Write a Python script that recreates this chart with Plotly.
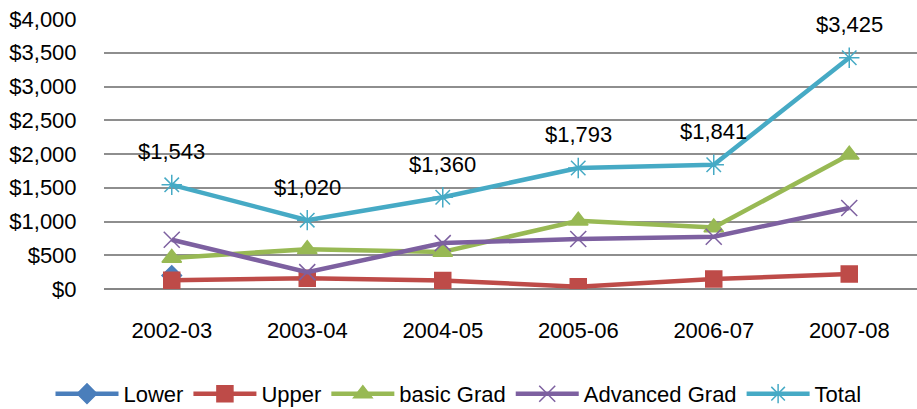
import plotly.graph_objects as go

categories = ["2002-03", "2003-04", "2004-05", "2005-06", "2006-07", "2007-08"]
lower = [200, None, None, None, None, None]
upper = [130, 160, 125, 35, 148, 222]
basic_grad = [460, 590, 550, 1010, 910, 1990]
advanced_grad = [730, 250, 680, 740, 775, 1200]
total = [1543, 1020, 1360, 1793, 1841, 3425]
y_ticks = [0, 500, 1000, 1500, 2000, 2500, 3000, 3500, 4000]

FONT = "Liberation Sans"
series = [
    ("Lower", lower, "#4A7EBB", "diamond", 15),
    ("Upper", upper, "#BE4B48", "square", 16),
    ("basic Grad", basic_grad, "#98B954", "triangle-up", 17),
    ("Advanced Grad", advanced_grad, "#7D60A0", "x-thin-open", 16),
    ("Total", total, "#46AAC5", "asterisk-open", 17),
]

fig = go.Figure()
for name, vals, color, sym, sz in series:
    fig.add_trace(go.Scatter(
        x=categories, y=vals, name=name, mode="lines+markers",
        line=dict(color=color, width=4.5),
        marker=dict(symbol=sym, size=sz, color=color,
                    line=dict(color=color, width=1.5)),
    ))

for c, v in zip(categories, total):
    fig.add_annotation(x=c, y=v, text=f"${v:,}", showarrow=False,
                       yshift=33, font=dict(family=FONT, size=22, color="#000000"))

fig.update_layout(
    width=917, height=409,
    margin=dict(l=104, r=0, t=19, b=120, autoexpand=False),
    paper_bgcolor="white", plot_bgcolor="white",
    font=dict(family=FONT, size=22, color="#000000"),
    showlegend=True,
    legend=dict(orientation="h", xref="container", yref="container",
                x=0.5, xanchor="center", y=0.037, yanchor="middle",
                font=dict(size=22), itemwidth=63, tracegroupgap=0),
    xaxis=dict(type="category", range=[-0.5, 5.5], showgrid=False,
               showline=False, ticks="outside", ticklen=22,
               tickcolor="rgba(0,0,0,0)", tickfont=dict(size=22)),
    yaxis=dict(range=[0, 4000], tickvals=y_ticks,
               ticktext=[f"${v:,}" for v in y_ticks],
               showgrid=True, gridcolor="#8E8E8E", gridwidth=1.5,
               zeroline=True, zerolinecolor="#868686", zerolinewidth=2,
               ticks="outside", ticklen=22, tickcolor="rgba(0,0,0,0)",
               tickfont=dict(size=22)),
)
fig.write_html("out.html", config={"displayModeBar": False},
               post_script="document.body.style.margin='0px';document.body.style.padding='0px';")
